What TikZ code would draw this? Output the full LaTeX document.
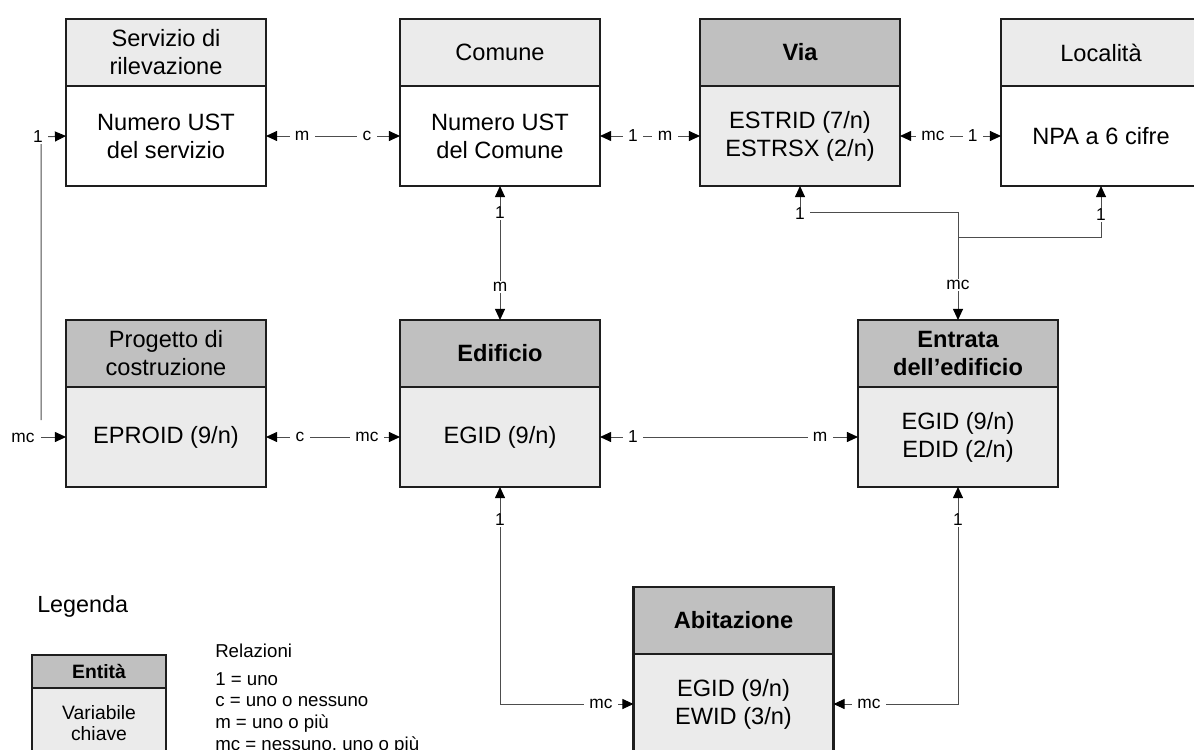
\documentclass[tikz,border=0pt]{standalone}
\usepackage{fontspec}
\setmainfont{Liberation Sans}
\usetikzlibrary{arrows.meta}
\definecolor{hdrdark}{HTML}{C0C0C0}
\definecolor{hdrlight}{HTML}{EBEBEB}
\definecolor{bodylight}{HTML}{EBEBEB}
\definecolor{linegray}{HTML}{4D4D4D}
\definecolor{edgecol}{HTML}{1E1E1E}
\tikzset{
  box/.style={draw=edgecol, rectangle, minimum width=150pt, align=center, outer sep=0pt, inner sep=2pt, text=black, font=\fontsize{17.7pt}{21pt}\selectfont},
  thinbox/.style={box, line width=0.8pt},
  thickbox/.style={box, line width=1.9pt},
  hd/.style={minimum height=50.25pt},
  bd/.style={minimum height=75pt},
  boldtxt/.style={font=\fontsize{17.7pt}{21pt}\selectfont\bfseries},
  tip/.tip={Triangle[length=8.3pt,width=7.5pt,color=black]},
  rel/.style={draw=linegray, line width=0.75pt, tip-tip},
  relend/.style={draw=linegray, line width=0.75pt, -tip},
  lab/.style={fill=white, inner xsep=4pt, inner ysep=1pt, text=black, font=\fontsize{13pt}{15pt}\selectfont},
  legtxt/.style={anchor=base west, inner sep=0pt, text=black, font=\fontsize{14pt}{16pt}\selectfont},
}
\begin{document}
\begin{tikzpicture}[x=0.75pt,y=-0.75pt]
\useasboundingbox (0,0) rectangle (1194,749);
\clip (0,0) rectangle (1194,749);

% ---- entities, top row
\node[thinbox,hd,fill=hdrlight] (servH) at (166,52.5) {Servizio di\\rilevazione};
\node[thinbox,bd,fill=white,anchor=north] (servB) at (servH.south) {Numero UST\\del servizio};
\node[thinbox,hd,fill=hdrlight] (comH) at (500,52.5) {Comune};
\node[thinbox,bd,fill=white,anchor=north] (comB) at (comH.south) {Numero UST\\del Comune};
\node[thickbox,hd,fill=hdrdark,boldtxt] (viaH) at (800,52.5) {Via};
\node[thickbox,bd,fill=bodylight,anchor=north] (viaB) at (viaH.south) {ESTRID (7/n)\\ESTRSX (2/n)};
\node[thinbox,hd,fill=hdrlight] (locH) at (1101,52.5) {Località};
\node[thinbox,bd,fill=white,anchor=north] (locB) at (locH.south) {NPA a 6 cifre};

% ---- middle row
\node[thinbox,hd,fill=hdrdark] (progH) at (166,353.5) {Progetto di\\costruzione};
\node[thinbox,bd,fill=bodylight,anchor=north] (progB) at (progH.south) {EPROID (9/n)};
\node[thickbox,hd,fill=hdrdark,boldtxt] (ediH) at (500,353.5) {Edificio};
\node[thickbox,bd,fill=bodylight,anchor=north] (ediB) at (ediH.south) {EGID (9/n)};
\node[thickbox,hd,fill=hdrdark,boldtxt] (entH) at (958,353.5) {Entrata\\dell’edificio};
\node[thickbox,bd,fill=bodylight,anchor=north] (entB) at (entH.south) {EGID (9/n)\\EDID (2/n)};

% ---- bottom
\node[thickbox,hd,fill=hdrdark,boldtxt] (abiH) at (733.5,620.5) {Abitazione};
\node[thickbox,bd,fill=bodylight,anchor=north] (abiB) at (abiH.south) {EGID (9/n)\\EWID (3/n)};

% ---- legend
\node[legtxt,font=\fontsize{17.5pt}{21pt}\selectfont] (legtitle) at (37,612) {Legenda};
\node[thinbox,fill=hdrdark,minimum width=100.5pt,minimum height=24.75pt,font=\fontsize{14.5pt}{16pt}\selectfont\bfseries] (legH) at (99,671.5) {Entità};
\node[thinbox,fill=bodylight,minimum width=100.5pt,minimum height=52.5pt,anchor=north,font=\fontsize{14.5pt}{16pt}\selectfont] (legB) at (legH.south) {Variabile\\chiave};
\node[legtxt] (rel0) at (215,657) {Relazioni};
\node[legtxt] (rel1) at (215,685) {1 = uno};
\node[legtxt] (rel2) at (215,706.5) {c = uno o nessuno};
\node[legtxt] (rel3) at (215,728) {m = uno o più};
\node[legtxt] (rel4) at (215,750.5) {mc = nessuno, uno o più};

% ---- connectors
\draw[rel] (servB.east) -- (comB.west)
  node[lab,pos=.27] (l1a) {m} node[lab,pos=.754] (l1b) {c};
\draw[rel] (comB.east) -- (viaB.west)
  node[lab,pos=.33] (l2a) {1} node[lab,pos=.65] (l2b) {m};
\draw[rel] (viaB.east) -- (locB.west)
  node[lab,pos=.327] (l3a) {mc} node[lab,pos=.72] (l3b) {1};
\draw[rel] (comB.south) -- (ediH.north)
  node[lab,pos=.2] (l4a) {1} node[lab,pos=.754] (l4b) {m};
\draw[rel] (progB.east) -- (ediB.west)
  node[lab,pos=.254] (l7a) {c} node[lab,pos=.754] (l7b) {mc};
\draw[rel] (ediB.east) -- (entB.west)
  node[lab,pos=.128] (l8a) {1} node[lab,pos=.853] (l8b) {m};

% Via / Localita -- Entrata
\coordinate (j1) at (958,212);
\coordinate (j2) at (958,237);
\draw[rel] (viaB.south) |- (j1) -- (entH.north);
\draw[relend] (j2) -| (locB.south);
\node[lab] (l5a) at (800,214) {1};
\node[lab] (l5b) at (958,285) {mc};
\node[lab] (l5c) at (1101,215) {1};

% Servizio -- Progetto
\coordinate (k1) at (41,137);
\coordinate (k2) at (41,420);
\draw[relend] (k2) -- (k1) -- (servB.west);
\draw[relend] (k2 |- progB.west) -- (progB.west);
\node[lab] (l6a) at (38,137) {1};
\node[lab] (l6b) at (23,438) {mc};

% Edificio / Entrata -- Abitazione
\draw[rel] (ediB.south) |- (abiB.west);
\node[lab] (l9a) at (500,520) {1};
\node[lab] (l9b) at (601,704) {mc};
\draw[rel] (entB.south) |- (abiB.east);
\node[lab] (l10a) at (958,520) {1};
\node[lab] (l10b) at (869,704) {mc};
\end{tikzpicture}
\end{document}
